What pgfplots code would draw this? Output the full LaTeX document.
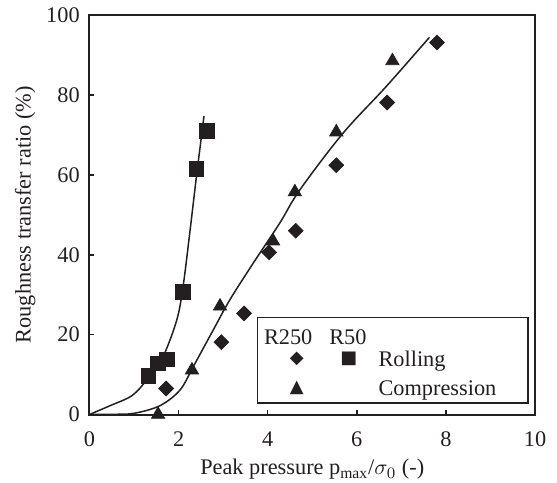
\documentclass[border=0pt]{standalone}
\usepackage{fontspec}
\setmainfont{Liberation Serif}
\newfontfamily\symfont{DejaVu Sans}
\usepackage{pgfplots}
\pgfplotsset{compat=1.18}
\definecolor{ink}{RGB}{35,31,32}

\begin{document}
\fontsize{11.2pt}{13.4pt}\selectfont
\begin{tikzpicture}[font=\rmfamily]
\begin{axis}[
  scale only axis, width=222.75bp, height=199.75bp,
  xmin=0, xmax=10, ymin=0, ymax=100,
  xtick={0,2,...,10}, ytick={0,20,...,100},
  xtick pos=bottom, ytick pos=left, tick align=inside,
  major tick length=2.5bp,
  axis line style={ink, line width=1bp},
  every tick/.style={ink, line width=0.8bp},
  tick label style={text=ink},
  /pgf/number format/assume math mode=true,
  xticklabel style={yshift=-4.5bp},
  yticklabel style={xshift=-1bp},
  xlabel={Peak pressure p\textsubscript{max}/$\sigma_0$ (-)},
  ylabel={Roughness transfer ratio (\%)},
  xlabel style={at={(axis description cs:0.5,-0.1514)}, anchor=base, text=ink},
  ylabel style={at={(axis description cs:-0.132,0.5)}, anchor=base, text=ink},
  clip=false,
]
% fitted curves
\addplot[ink, line width=0.75bp, smooth, tension=0.55] coordinates {
  (0,0) (0.46,2.2) (0.95,4.7) (1.28,8.6) (1.65,14.5) (1.96,23.7) (2.10,32) (2.25,45.4) (2.40,59.5) (2.57,74.7)};
\addplot[ink, line width=0.75bp, smooth, tension=0.55] coordinates {
  (0,0) (0.5,0.05) (1.0,0.3) (1.58,2.2) (2.03,6.1) (2.33,12) (2.78,21.2) (3.15,28.7) (3.67,37.8) (4.27,47.9) (4.72,56.2) (5.69,70.4) (6.66,82.1) (7.63,94.4)};
% R50 rolling
\addplot[only marks, mark=square*, mark size=3.7bp, ink] coordinates {
  (1.32,9.6) (1.53,12.8) (1.74,13.8) (2.10,30.6) (2.40,61.4) (2.63,71.0)};
% R250 rolling
\addplot[only marks, mark=square*, mark options={rotate=45}, mark size=2.6bp, ink] coordinates {
  (1.72,6.5) (2.96,18.1) (3.47,25.3) (4.03,40.6) (4.63,46.0) (5.54,62.4) (6.68,78.1) (7.80,93.1)};
% R250 compression
\addplot[only marks, mark=triangle*, mark size=3.8bp, ink] coordinates {
  (1.54,0) (2.30,11.1) (2.93,27.1) (4.12,43.4) (4.61,55.7) (5.54,70.7) (6.80,88.5)};
% legend
\draw[ink, line width=0.9bp, fill=white] (axis cs:3.77,2.95) rectangle (axis cs:9.84,24.3);
\node[anchor=base, text=ink, font=\rmfamily] at (axis cs:4.46,17.57) {R250};
\node[anchor=base, text=ink, font=\rmfamily] at (axis cs:5.80,17.57) {R50};
\node[text=ink, inner sep=0pt, font=\symfont\small] at (axis cs:4.65,13.82) {◆};
\node[text=ink, inner sep=0pt, font=\symfont\small] at (axis cs:5.82,13.82) {■};
\node[text=ink, inner sep=0pt, font=\symfont\small] at (axis cs:4.65,6.56) {▲};
\node[anchor=base west, inner sep=0pt, text=ink, font=\rmfamily] at (axis cs:6.48,11.96) {Rolling};
\node[anchor=base west, inner sep=0pt, text=ink, font=\rmfamily] at (axis cs:6.48,4.88) {Compression};
\coordinate (SW) at (rel axis cs:0,0);
\coordinate (NE) at (rel axis cs:1,1);
\end{axis}
\pgfresetboundingbox
\path ([shift={(-44.75bp,-34.25bp)}]SW) rectangle ([shift={(11bp,7.5bp)}]NE);
\end{tikzpicture}
\end{document}
